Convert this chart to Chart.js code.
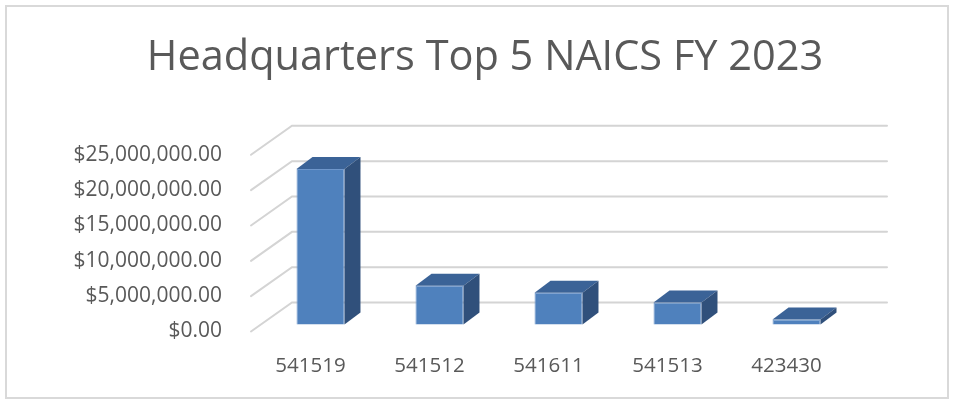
<!DOCTYPE html>
<html>
<head>
<meta charset="utf-8">
<script src="https://cdn.jsdelivr.net/npm/chart.js@4"></script>
<style>
  html, body { margin: 0; padding: 0; background: #fff; }
  #wrap { width: 954px; height: 401px; }
</style>
</head>
<body>
<div id="wrap"><canvas id="myChart" width="954" height="401"></canvas></div>
<script>
// chart data
const naicsCodes = ['541519', '541512', '541611', '541513', '423430'];
const obligations = [22000000, 5500000, 4500000, 3100000, 700000];
const yTicks = [0, 5000000, 10000000, 15000000, 20000000, 25000000];

const textColor = '#595959';
const FONT = "'Open Sans', sans-serif";

// offsets for the fake 3d look
const wallDX = 41, wallDY = -29;   // back wall from front plane
const barDX = 10, barDY = -7;      // bar front face from front plane
const depthDX = 16, depthDY = -12; // bar depth

const fakeThreeD = {
    id: 'fakeThreeD',
    beforeDraw(chart) {
        const ctx = chart.ctx;
        ctx.save();
        ctx.strokeStyle = '#d9d9d9';
        ctx.lineWidth = 2;
        ctx.strokeRect(6, 6, 942, 392);
        ctx.restore();
    },
    beforeDatasetsDraw(chart) {
        const ctx = chart.ctx;
        const area = chart.chartArea;
        const yScale = chart.scales.y;
        ctx.save();
        ctx.strokeStyle = '#d4d4d4';
        ctx.lineWidth = 2;
        ctx.lineCap = 'round';
        yScale.ticks.forEach(function (t) {
            const y = yScale.getPixelForValue(t.value);
            ctx.beginPath();
            ctx.moveTo(area.left, y);
            ctx.lineTo(area.left + wallDX, y + wallDY);
            ctx.lineTo(area.right + wallDX, y + wallDY);
            ctx.stroke();
        });
        ctx.restore();
        // shift the bar fronts back a little
        ctx.save();
        ctx.translate(barDX, barDY);
    },
    afterDatasetsDraw(chart) {
        const ctx = chart.ctx;
        const meta = chart.getDatasetMeta(0);
        meta.data.forEach(function (bar) {
            const x1 = bar.x - bar.width / 2;
            const x2 = bar.x + bar.width / 2;
            const top = bar.y;
            const base = bar.base;
            // top face
            ctx.fillStyle = '#3b6397';
            ctx.beginPath();
            ctx.moveTo(x1, top);
            ctx.lineTo(x1 + depthDX, top + depthDY);
            ctx.lineTo(x2 + depthDX, top + depthDY);
            ctx.lineTo(x2, top);
            ctx.closePath();
            ctx.fill();
            // side face
            ctx.fillStyle = '#30507b';
            ctx.beginPath();
            ctx.moveTo(x2, top);
            ctx.lineTo(x2 + depthDX, top + depthDY);
            ctx.lineTo(x2 + depthDX, base + depthDY);
            ctx.lineTo(x2, base);
            ctx.closePath();
            ctx.fill();
        });
        ctx.restore();
    }
};

const ctx = document.getElementById('myChart').getContext('2d');
const myChart = new Chart(ctx, {
    type: 'bar',
    data: {
        labels: naicsCodes,
        datasets: [{
            data: obligations,
            backgroundColor: '#4f81bd',
            borderColor: '#6f97cb',
            borderWidth: 1,
            categoryPercentage: 1,
            barPercentage: 0.403,
            clip: false
        }]
    },
    options: {
        responsive: false,
        animation: false,
        layout: {
            padding: { left: 16, right: 0, top: 0, bottom: 0 }
        },
        plugins: {
            legend: { display: false },
            tooltip: { enabled: false },
            title: {
                display: true,
                text: 'Headquarters Top 5 NAICS FY 2023',
                color: textColor,
                font: { family: FONT, size: 41.5, weight: 'normal' },
                padding: { top: 33, bottom: 72 }
            }
        },
        scales: {
            x: {
                grid: { display: false, drawTicks: false },
                border: { display: false },
                ticks: {
                    color: textColor,
                    font: { family: FONT, size: 20.5 },
                    padding: 22,
                    maxRotation: 0
                },
                afterFit: function (scale) { scale.height = 69.5; }
            },
            y: {
                min: 0,
                max: 25000000,
                afterBuildTicks: function (scale) {
                    scale.ticks = yTicks.map(function (v) { return { value: v }; });
                },
                grid: { display: false, drawTicks: false },
                border: { display: false },
                ticks: {
                    color: textColor,
                    font: { family: FONT, size: 21 },
                    padding: 29,
                    callback: function (value) {
                        return '$' + Number(value).toLocaleString('en-US', { minimumFractionDigits: 2, maximumFractionDigits: 2 });
                    }
                },
                afterFit: function (scale) { scale.width = 235; }
            },
            // empty right-hand axis, only reserves the space right of the plot
            yRight: {
                position: 'right',
                grid: { display: false, drawTicks: false },
                border: { display: false },
                ticks: { display: false },
                afterFit: function (scale) { scale.width = 108; }
            }
        }
    },
    plugins: [fakeThreeD]
});
</script>
</body>
</html>
